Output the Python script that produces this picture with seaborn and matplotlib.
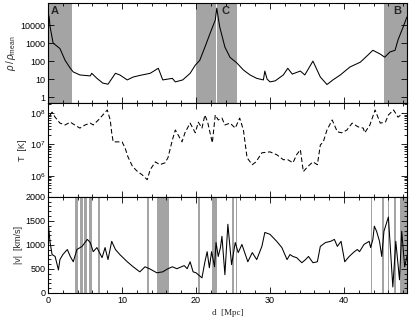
import numpy as np
import pandas as pd
import matplotlib
matplotlib.use("Agg")
import matplotlib.pyplot as plt
import seaborn as sns
from matplotlib.ticker import MultipleLocator, LogLocator, NullFormatter

# ---------------------------------------------------------
# Data
# ---------------------------------------------------------
# density along the sightline
rho_d = [0.0, 0.14, 0.27, 0.68, 1.6, 2.3, 3.0, 3.4, 4.3, 5.7, 5.9, 6.6, 7.4, 8.1,
         9.1, 9.7, 10.7, 11.5, 12.4, 13.8, 14.9, 15.5, 16.8, 17.2, 18.2, 19.2, 19.9,
         20.5, 21.2, 21.9, 22.6, 22.8, 23.2, 23.9, 24.6, 25.5, 26.4, 27.3, 28.2, 29.1,
         29.3, 29.6, 30.0, 30.7, 31.8, 32.4, 33.0, 34.1, 34.7, 35.8, 36.8, 37.7, 38.5,
         39.5, 40.8, 42.2, 43.2, 43.9, 44.9, 45.5, 46.2, 46.9, 47.3, 48.0, 48.5]
rho_val = [45000, 28000, 8000, 1000, 500, 110, 40, 25, 17, 15, 21, 11, 6, 5.2,
           21, 17, 9, 13, 16, 21, 40, 9, 11, 7, 9, 21, 60,
           110, 600, 3500, 19000, 87000, 8000, 600, 160, 80, 32, 17, 11, 9,
           28, 10, 7, 8, 17, 40, 19, 28, 17, 100, 13, 5, 9,
           17, 47, 87, 210, 400, 245, 165, 320, 400, 1500, 8000, 28000]

# temperature along the sightline (log10 T)
T_d = [0.27, 0.54, 0.95, 1.6, 2.3, 3.0, 3.6, 4.3, 5.0, 5.7, 6.1, 6.8, 7.4, 8.0, 8.4,
       8.6, 8.8, 9.3, 10.0, 10.4, 10.8, 11.4, 12.0, 12.7, 13.4, 13.8, 14.5, 15.1,
       15.8, 16.2, 16.8, 17.2, 18.1, 18.5, 19.2, 19.9, 20.3, 20.8, 21.2, 21.6, 22.2,
       22.6, 23.0, 23.5, 23.9, 24.6, 25.3, 25.9, 26.4, 26.9, 27.6, 28.1, 28.9, 30.0,
       30.9, 31.8, 32.4, 33.1, 33.6, 34.1, 34.5, 35.1, 35.8, 36.4, 36.8, 37.2, 37.7,
       38.4, 39.1, 39.7, 40.4, 41.1, 41.9, 42.6, 42.8, 43.5, 44.2, 44.9, 45.6, 46.0,
       46.7, 47.3, 48.0]
T_log = [7.94, 8.03, 7.87, 7.68, 7.62, 7.71, 7.62, 7.52, 7.62, 7.68, 7.62, 7.78, 7.94,
         8.10, 7.78, 7.37, 7.08, 7.08, 7.08, 6.89, 6.60, 6.30, 6.15, 6.03, 5.87, 6.19,
         6.44, 6.35, 6.41, 6.57, 7.14, 7.46, 7.08, 7.37, 7.68, 7.37, 7.71, 7.52, 7.94,
         7.68, 7.05, 7.94, 7.78, 7.84, 7.62, 7.68, 7.52, 7.84, 7.46, 6.57, 6.35, 6.44,
         6.73, 6.76, 6.67, 6.51, 6.51, 6.41, 6.67, 6.83, 6.13, 6.29, 6.44, 6.35, 6.98,
         7.08, 7.46, 7.78, 7.40, 7.37, 7.46, 7.68, 7.56, 7.52, 7.37, 7.62, 8.10, 7.68,
         7.71, 7.94, 8.10, 7.87, 8.00]

# peculiar velocity along the sightline
v_d = [0.0, 0.27, 0.54, 0.95, 1.4, 1.6, 2.0, 2.6, 3.0, 3.4, 3.9, 4.6, 5.3, 5.7, 6.1,
       6.6, 7.3, 7.7, 8.1, 8.6, 9.1, 9.7, 10.7, 11.5, 12.4, 13.1, 13.7, 14.7, 15.5,
       16.2, 16.8, 17.4, 18.4, 18.8, 19.2, 19.6, 20.0, 20.8, 21.2, 21.5, 21.8, 22.1,
       22.5, 22.7, 23.0, 23.3, 23.5, 23.9, 24.3, 24.8, 25.3, 25.7, 26.2, 27.0, 27.6,
       28.2, 28.9, 29.3, 30.0, 30.9, 31.6, 32.3, 32.7, 33.1, 33.6, 34.3, 34.8, 35.2,
       35.8, 36.4, 36.8, 37.5, 38.2, 38.7, 39.1, 39.6, 40.1, 40.7, 41.4, 41.8, 42.1,
       42.7, 43.4, 43.6, 43.9, 44.1, 44.4, 44.8, 45.1, 45.4, 46.0, 46.6, 47.0, 47.5,
       47.8, 48.2, 48.5]
v_val = [1495, 1050, 800, 760, 480, 695, 800, 905, 760, 650, 905, 970, 1115, 1050,
         860, 945, 735, 945, 695, 1075, 905, 800, 650, 545, 440, 545, 505, 420, 440,
         505, 545, 505, 570, 505, 650, 440, 420, 315, 650, 860, 525, 860, 545, 1050,
         760, 945, 1180, 380, 1430, 590, 1050, 840, 1010, 650, 840, 695, 970, 1260,
         1220, 1075, 945, 695, 800, 760, 735, 630, 695, 760, 630, 650, 970, 1050, 1075,
         1115, 970, 1075, 650, 760, 860, 905, 860, 1010, 1075, 945, 1115, 1390, 1285,
         1075, 760, 1285, 1580, 125, 1075, 275, 1285, 545, 760]

# shaded regions
rho_bands = [(0.0, 3.2), (20.0, 22.75), (22.85, 25.5), (45.4, 48.5)]
v_bands = [(3.7, 4.0), (4.3, 4.7), (4.9, 5.3), (5.5, 5.9), (6.8, 7.0), (13.4, 13.7),
           (14.7, 16.3), (20.3, 20.5), (22.1, 22.8), (24.9, 25.1), (25.4, 25.6),
           (43.6, 43.75), (45.2, 45.35), (45.95, 46.1), (46.8, 47.0), (47.6, 48.5)]

labels = ["A", "C", "B"]
label_pos = [0.3, 23.5, 46.7]

# ---------------------------------------------------------
# Plot
# ---------------------------------------------------------
sns.set_theme(style="ticks")
plt.rcParams['font.family'] = ['Liberation Sans', 'DejaVu Sans']
plt.rcParams['mathtext.fontset'] = 'custom'
plt.rcParams['mathtext.rm'] = 'Liberation Sans'
plt.rcParams['mathtext.it'] = 'Liberation Sans:italic'
fs = 6.5

fig = plt.figure(figsize=(4.11, 3.27), dpi=100)
left, width = 0.117, 0.873
ax1 = fig.add_axes([left, 0.685, width, 0.306])
ax2 = fig.add_axes([left, 0.398, width, 0.287], sharex=ax1)
ax3 = fig.add_axes([left, 0.104, width, 0.294], sharex=ax1)

band_col = '#a4a4a4'
for a, b in rho_bands:
    ax1.axvspan(a, b, color=band_col, lw=0, zorder=0)
for a, b in v_bands:
    ax3.axvspan(a, b, color=band_col, lw=0, zorder=0)

rho_df = pd.DataFrame({'d': rho_d, 'rho': rho_val})
T_df = pd.DataFrame({'d': T_d, 'T': np.power(10.0, T_log)})
v_df = pd.DataFrame({'d': v_d, 'v': v_val})

sns.lineplot(data=rho_df, x='d', y='rho', ax=ax1, color='black', lw=0.75, sort=False)
sns.lineplot(data=T_df, x='d', y='T', ax=ax2, color='black', lw=0.75, sort=False)
ax2.lines[0].set_dashes([4.5, 2.5])
sns.lineplot(data=v_df, x='d', y='v', ax=ax3, color='black', lw=0.75, sort=False)

ax1.set_yscale('log')
ax1.set_ylim(0.47, 1.7e5)
ax1.set_yticks([1, 10, 100, 1000, 10000])
ax1.set_yticklabels(['1', '10', '100', '1000', '10000'])
ax1.yaxis.set_minor_locator(LogLocator(base=10, subs=np.arange(2, 10)))
ax1.yaxis.set_minor_formatter(NullFormatter())

ax2.set_yscale('log')
ax2.set_ylim(2.1e5, 2.1e8)
ax2.set_yticks([1e6, 1e7, 1e8])
ax2.set_yticklabels([r'10$^6$', r'10$^7$', r'10$^8$'])
ax2.yaxis.set_minor_locator(LogLocator(base=10, subs=np.arange(2, 10)))
ax2.yaxis.set_minor_formatter(NullFormatter())

ax3.set_ylim(0, 2000)
ax3.set_yticks([0, 500, 1000, 1500, 2000])
ax3.yaxis.set_minor_locator(MultipleLocator(100))

ax3.set_xlim(0, 48.5)
ax3.set_xticks([0, 10, 20, 30, 40])
ax3.xaxis.set_minor_locator(MultipleLocator(2))

for ax in (ax1, ax2, ax3):
    ax.set_xlabel('')
    for s in ax.spines.values():
        s.set_linewidth(0.8)
        s.set_color('black')
    ax.tick_params(which='both', direction='in', top=True, right=True,
                   labelsize=fs, width=0.6, colors='black', pad=2)
    ax.tick_params(which='major', length=4)
    ax.tick_params(which='minor', length=2)
ax1.tick_params(labelbottom=False)
ax2.tick_params(labelbottom=False)

ax1.set_ylabel(r'$\rho\,/\,\rho_{\rm mean}$', fontsize=fs + 0.5, labelpad=2)
ax2.set_ylabel('T  [K]', fontsize=fs, labelpad=2)
ax3.set_ylabel('|v|  [km/s]', fontsize=fs, labelpad=2)
ax3.set_xlabel('d  [Mpc]', fontsize=fs, family='Liberation Serif', labelpad=3)

for lab, xp in zip(labels, label_pos):
    ax1.text(xp, 0.965, lab, transform=ax1.get_xaxis_transform(), fontsize=8,
             fontweight='bold', ha='left', va='top')

fig.savefig('out.png', dpi=100)
